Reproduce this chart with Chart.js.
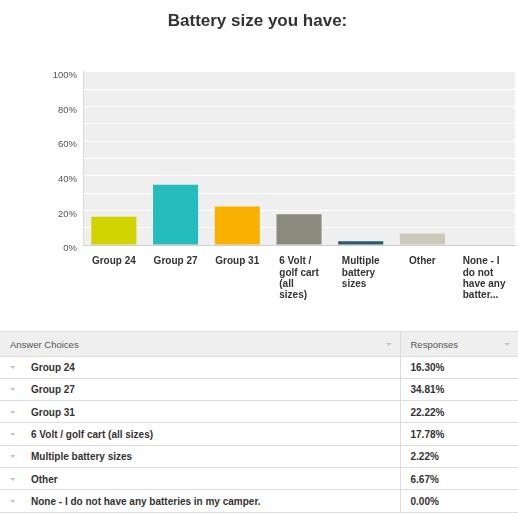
<!DOCTYPE html>
<html><head><meta charset="utf-8">
<script src="https://cdn.jsdelivr.net/npm/chart.js@4/dist/chart.umd.min.js"></script>
<style>
html,body{margin:0;padding:0;background:#fff;width:518px;height:513px;overflow:hidden;font-family:"Liberation Sans",Arial,Helvetica,sans-serif;}
#wrap{position:absolute;left:0;top:0;width:518px;height:320px;}
table{position:absolute;left:0;top:331px;width:518px;border-collapse:collapse;table-layout:fixed;}
th,td{padding:0;height:22.3px;box-sizing:border-box;border-bottom:1px solid #dedede;font-size:10px;color:#333;vertical-align:middle;white-space:nowrap;position:relative;}
th{height:24.5px;background:#efefef;font-weight:normal;color:#555;font-size:9.5px;text-align:left;border-top:1px solid #e0e0e0;}
td{font-weight:bold;}
.c2{border-left:1px solid #dcdcdc;}
.arr{position:absolute;font-size:7.5px;color:#bdbdbd;top:50%;transform:translateY(-45%) scaleY(0.7);font-weight:normal;}
.lbl{position:absolute;top:50%;transform:translateY(-50%);}
</style></head>
<body>
<div id="wrap"><canvas id="c" width="518" height="320"></canvas></div>
<table id="t"><colgroup><col style="width:400px"><col style="width:118px"></colgroup>
<thead><tr><th><span class="lbl" style="left:10px">Answer Choices</span><span class="arr" style="left:385px">&#9660;</span></th>
<th class="c2"><span class="lbl" style="left:10px">Responses</span><span class="arr" style="left:103px">&#9660;</span></th></tr></thead>
<tbody id="tb"></tbody></table>
<script>
const categories = ["Group 24","Group 27","Group 31","6 Volt / golf cart (all sizes)","Multiple battery sizes","Other","None - I do not have any batteries in my camper."];
const axisLabels = [["Group 24"],["Group 27"],["Group 31"],["6 Volt /","golf cart","(all","sizes)"],["Multiple","battery","sizes"],["Other"],["None - I","do not","have any","batter..."]];
const responses = [16.30,34.81,22.22,17.78,2.22,6.67,0.00];
const barColors = ["#d0d300","#25bcbd","#f9b100","#8a8b7c","#2b5a70","#ccc9bb","#9a9a9a"];
const titleText = "Battery size you have:";

const tb = document.getElementById('tb');
categories.forEach((c,i)=>{
  const tr = document.createElement('tr');
  tr.innerHTML = '<td><span class="arr" style="left:9px">&#9660;</span><span class="lbl" style="left:31px"></span></td><td class="c2"><span class="lbl" style="left:10px"></span></td>';
  tr.children[0].querySelector('.lbl').textContent = c;
  tr.children[1].querySelector('.lbl').textContent = responses[i].toFixed(2) + '%';
  tb.appendChild(tr);
});

const FONT = '"Liberation Sans", Arial, Helvetica, sans-serif';
const bgPlugin = {
  id:'bg',
  beforeDraw(chart){
    const {ctx, chartArea:a} = chart;
    ctx.save(); ctx.fillStyle = '#efefef';
    ctx.fillRect(a.left, a.top, a.right-a.left, a.bottom-a.top);
    ctx.restore();
  }
};
const xLabelPlugin = {
  id:'xlabels',
  afterDraw(chart){
    const ctx = chart.ctx, xs = chart.scales.x;
    ctx.save();
    ctx.font = 'bold 10px ' + FONT;
    ctx.fillStyle = '#333'; ctx.textAlign = 'left'; ctx.textBaseline = 'middle';
    axisLabels.forEach((lines,i)=>{
      const cx = xs.getPixelForValue(i);
      const w = Math.max(...lines.map(l=>ctx.measureText(l).width));
      lines.forEach((l,j)=>ctx.fillText(l, cx - w/2, xs.top + 16.5 + j*11.3));
    });
    ctx.restore();
  }
};

new Chart(document.getElementById('c'), {
  type:'bar',
  data:{labels:categories, datasets:[{data:responses, backgroundColor:barColors, borderWidth:0, barPercentage:0.73, categoryPercentage:1}]},
  options:{
    responsive:false, animation:false,
    layout:{padding:{left:0,right:3,top:0,bottom:0}},
    plugins:{
      legend:{display:false}, tooltip:{enabled:false},
      title:{display:true, text:titleText, color:'#333', font:{family:FONT, size:17, weight:'bold'}, padding:{top:11.5,bottom:40}}
    },
    scales:{
      x:{ticks:{display:false}, grid:{display:false}, border:{display:true, color:'#cfcfcf'},
         afterFit(s){ s.height = 75; }},
      y:{min:0, max:100,
         ticks:{stepSize:10, padding:6, labelOffset:3.5, color:'#555', font:{family:FONT, size:9.5},
                callback:v=> v%20===0 ? v+'%' : ''},
         grid:{color:'#ffffff', lineWidth:1, drawTicks:false},
         border:{display:true, color:'#dadada'},
         afterFit(s){ s.width = 83; }}
    }
  },
  plugins:[bgPlugin, xLabelPlugin]
});
</script>
</body></html>
